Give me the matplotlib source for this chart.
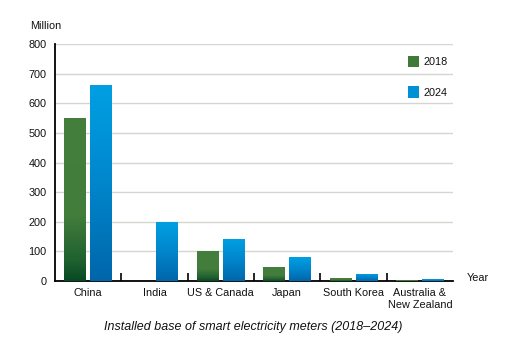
import matplotlib.pyplot as plt
import numpy as np
from matplotlib.colors import LinearSegmentedColormap
from matplotlib.patches import Patch

plt.rcParams['font.family'] = ['Liberation Sans', 'DejaVu Sans']

# ----- data (million meters) -----
regions = ['China', 'India', 'US & Canada', 'Japan', 'South Korea', 'Australia &\nNew Zealand']
years = ['2018', '2024']
vals_2018 = [551, 0, 101, 47, 10, 3]
vals_2024 = [662, 200, 142, 81, 24, 6]
yticks = [0, 100, 200, 300, 400, 500, 600, 700, 800]

# ----- colours -----
green_cmap = LinearSegmentedColormap.from_list(
    'g', [(0.0, '#064a22'), (0.12, '#1f6030'), (0.4, '#427d3b'), (1.0, '#457f3d')])
blue_cmap = LinearSegmentedColormap.from_list(
    'b', [(0.0, '#0066aa'), (0.5, '#0086cc'), (1.0, '#00a0e3')])
txt = '#111111'
fs = 7.8

fig = plt.figure(figsize=(5.06, 3.47), dpi=100)
ax = fig.add_axes([0.1087, 0.1902, 0.7866, 0.683])

x = np.arange(len(regions))
w = 0.33
gap = 0.06


def grad_bars(xpos, heights, cmap):
    bars = ax.bar(xpos, heights, w, facecolor='none', edgecolor='none', zorder=3)
    grad = np.linspace(0, 1, 256).reshape(-1, 1)
    for b in bars:
        if b.get_height() <= 0:
            continue
        x0, y0 = b.get_x(), b.get_y()
        im = ax.imshow(grad, cmap=cmap, origin='lower', aspect='auto',
                       extent=[x0, x0 + b.get_width(), y0, y0 + b.get_height()],
                       zorder=3)
        im.set_clip_path(b)
    return bars


grad_bars(x - (w + gap) / 2, vals_2018, green_cmap)
grad_bars(x + (w + gap) / 2, vals_2024, blue_cmap)

ax.set_xlim(-0.5, len(regions) - 0.5)
ax.set_ylim(0, 800)
ax.set_yticks(yticks)
ax.set_yticklabels([str(v) for v in yticks], color=txt, fontsize=fs)
ax.tick_params(axis='y', length=0, pad=6)
ax.set_xticks(x)
ax.set_xticklabels(regions, color=txt, fontsize=fs, linespacing=1.2)
ax.tick_params(axis='x', length=0, pad=5)
ax.set_xticks(np.arange(0.5, len(regions) - 0.5), minor=True)
ax.tick_params(axis='x', which='minor', direction='in', length=6, width=1.2, color='black')

ax.grid(axis='y', color='#d6d6d0', linewidth=1.0, zorder=0)
ax.set_axisbelow(True)
for s in ['top', 'right']:
    ax.spines[s].set_visible(False)
ax.spines['left'].set_linewidth(1.3)
ax.spines['bottom'].set_linewidth(1.3)

handles = [Patch(facecolor='#3f7a39', edgecolor='none'),
           Patch(facecolor='#0090d6', edgecolor='none')]
ax.legend(handles, years, loc='upper right', bbox_to_anchor=(1.012, 0.992), frameon=False,
          fontsize=fs, handlelength=1.05, handleheight=1.3, handletextpad=0.4,
          labelspacing=1.75, labelcolor=txt)

fig.text(0.06, 0.925, 'Million', fontsize=fs, color=txt, ha='left', va='center')
fig.text(0.923, 0.198, 'Year', fontsize=fs, color=txt, ha='left', va='center')
fig.text(0.5, 0.058, 'Installed base of smart electricity meters (2018\u20132024)',
         fontsize=9, style='italic', color=txt, ha='center', va='center')

fig.savefig('out.png', dpi=100)
